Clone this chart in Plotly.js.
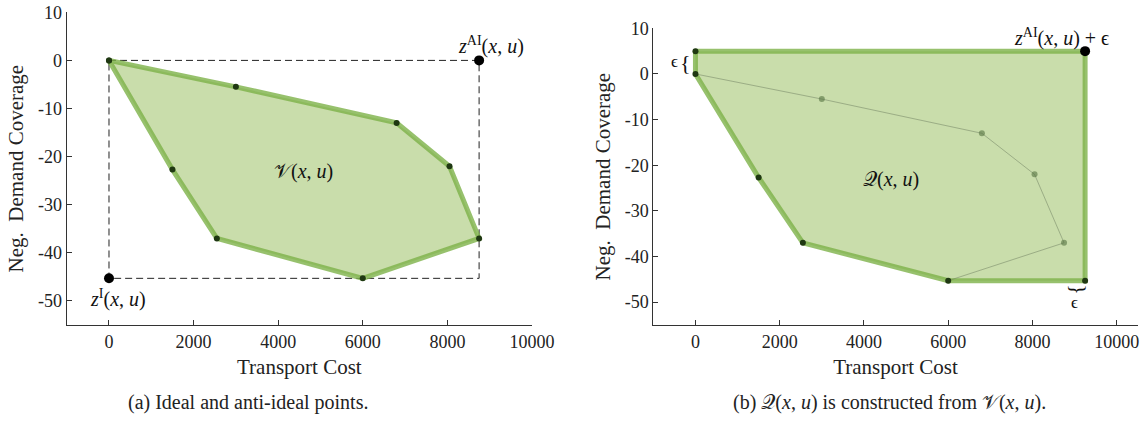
<!DOCTYPE html>
<html><head><meta charset="utf-8">
<script src="https://cdn.plot.ly/plotly-3.0.1.min.js"></script>
<style>html,body{margin:0;padding:0;background:#fff}#chart{width:1146px;height:425px}</style>
</head><body><div id="chart"></div>
<script>
// ---- Panel (a): outcome set V(x,u) ----
const vX = [0, 3000, 6800, 8050, 8750, 6000, 2550, 1500, 0];
const vY = [0, -5.5, -13, -22, -37, -45.3, -37, -22.7, 0];
const idealX = [0];
const idealY = [-45.3];
const antiX = [8750];
const antiY = [0];
const boxX = [0, 8750, 8750, 0, 0];
const boxY = [0, 0, -45.3, -45.3, 0];
// ---- Panel (b): constructed set Q(x,u) ----
const qX = [0, 9250, 9250, 6000, 2550, 1500, 0, 0];
const qY = [5, 5, -45.3, -45.3, -37, -22.7, 0, 5];
const frontX = [0, 3000, 6800, 8050, 8750, 6000];
const frontY = [0, -5.5, -13, -22, -37, -45.3];
const innerX = [3000, 6800, 8050, 8750];
const innerY = [-5.5, -13, -22, -37];
const qDotX = [0, 0, 1500, 2550, 6000, 9250];
const qDotY = [5, 0, -22.7, -37, -45.3, -45.3];
const antiEpsX = [9250];
const antiEpsY = [5];
// ---- ticks ----
const xTicks = [0, 2000, 4000, 6000, 8000, 10000];
const xTickText = ['0', '2000', '4000', '6000', '8000', '10000'];
const yTicks = [10, 0, -10, -20, -30, -40, -50];
const yTickText = ['10', '0', '-10', '-20', '-30', '-40', '-50'];

const FONT = 'Liberation Serif, Times New Roman, serif';
const FILL = 'rgb(201,221,171)';
const EDGE = 'rgba(125,178,72,0.8)';
const DOT = '#1f3812';

const traces = [
  {x: vX, y: vY, xaxis: 'x', yaxis: 'y', mode: 'lines', fill: 'toself', fillcolor: FILL,
   line: {width: 0, color: FILL}, hoverinfo: 'skip'},
  {x: boxX, y: boxY, xaxis: 'x', yaxis: 'y', mode: 'lines',
   line: {color: '#222', width: 1, dash: '7px,4px'}, hoverinfo: 'skip'},
  {x: vX, y: vY, xaxis: 'x', yaxis: 'y', mode: 'lines',
   line: {color: EDGE, width: 5}, hoverinfo: 'skip'},
  {x: vX, y: vY, xaxis: 'x', yaxis: 'y', mode: 'markers', cliponaxis: false,
   marker: {color: DOT, size: 6}},
  {x: idealX.concat(antiX), y: idealY.concat(antiY), xaxis: 'x', yaxis: 'y', mode: 'markers', cliponaxis: false,
   marker: {color: '#000', size: 10}},

  {x: qX, y: qY, xaxis: 'x2', yaxis: 'y2', mode: 'lines', fill: 'toself', fillcolor: FILL,
   line: {width: 0, color: FILL}, hoverinfo: 'skip'},
  {x: qX, y: qY, xaxis: 'x2', yaxis: 'y2', mode: 'lines',
   line: {color: EDGE, width: 5}, hoverinfo: 'skip'},
  {x: frontX, y: frontY, xaxis: 'x2', yaxis: 'y2', mode: 'lines',
   line: {color: 'rgba(110,125,95,0.5)', width: 1}, hoverinfo: 'skip'},
  {x: innerX, y: innerY, xaxis: 'x2', yaxis: 'y2', mode: 'markers',
   marker: {color: 'rgba(85,115,65,0.6)', size: 6}},
  {x: qDotX, y: qDotY, xaxis: 'x2', yaxis: 'y2', mode: 'markers', cliponaxis: false,
   marker: {color: DOT, size: 6}},
  {x: antiEpsX, y: antiEpsY, xaxis: 'x2', yaxis: 'y2', mode: 'markers', cliponaxis: false,
   marker: {color: '#000', size: 10}}
];

function xa(domain, range, anchor) {
  return {domain: domain, range: range, anchor: anchor, showgrid: false, zeroline: false,
    showline: true, linecolor: '#333', linewidth: 1, ticks: 'inside', ticklen: 5, tickcolor: '#333',
    tickmode: 'array', tickvals: xTicks, ticktext: xTickText,
    tickfont: {family: FONT, size: 18, color: '#222'},
    title: {text: 'Transport Cost', font: {family: FONT, size: 21, color: '#222'}, standoff: 8}};
}
function ya(domain, anchor) {
  return {domain: domain, range: [-55, 10], anchor: anchor, showgrid: false, zeroline: false,
    showline: true, linecolor: '#333', linewidth: 1, ticks: 'inside', ticklen: 5, tickcolor: '#333',
    tickmode: 'array', tickvals: yTicks, ticktext: yTickText,
    tickfont: {family: FONT, size: 18, color: '#222'},
    title: {text: 'Neg.  Demand Coverage', font: {family: FONT, size: 21, color: '#222'}, standoff: 8}};
}

const mathF = {family: FONT, size: 20, color: '#111'};
const annotations = [
  {xref: 'x', yref: 'y', x: 4600, y: -23, xanchor: 'center', yanchor: 'middle', text: '𝒱(<i>x</i>, <i>u</i>)', showarrow: false, font: mathF},
  {xref: 'x', yref: 'y', x: 9040, y: 3.0, xanchor: 'center', yanchor: 'middle', text: '<i>z</i><sup>AI</sup>(<i>x</i>, <i>u</i>)', showarrow: false, font: mathF},
  {xref: 'x', yref: 'y', x: 220, y: -49.4, xanchor: 'center', yanchor: 'middle', text: '<i>z</i><sup>I</sup>(<i>x</i>, <i>u</i>)', showarrow: false, font: mathF},

  {xref: 'x2', yref: 'y2', x: 4650, y: -23.2, xanchor: 'center', yanchor: 'middle', text: '𝒬(<i>x</i>, <i>u</i>)', showarrow: false, font: mathF},
  {xref: 'x2', yref: 'y2', x: 8680, y: 8.0, xanchor: 'center', yanchor: 'middle', text: '<i>z</i><sup>AI</sup>(<i>x</i>, <i>u</i>) + ϵ', showarrow: false, font: mathF},
  {xref: 'x2', yref: 'y2', x: 0, y: 2.5, xanchor: 'right', yanchor: 'middle', xshift: -2, text: '{', showarrow: false,
   font: {family: FONT, size: 22, color: '#111'}},
  {xref: 'x2', yref: 'y2', x: 0, y: 2.7, xanchor: 'right', yanchor: 'middle', xshift: -15, text: 'ϵ', showarrow: false,
   font: {family: FONT, size: 17, color: '#111'}},
  {xref: 'x2', yref: 'y2', x: 9000, y: -45.3, xanchor: 'center', yanchor: 'top', yshift: -1, text: '{', textangle: -90, showarrow: false,
   font: {family: FONT, size: 22, color: '#111'}},
  {xref: 'x2', yref: 'y2', x: 9000, y: -45.3, xanchor: 'center', yanchor: 'top', yshift: -10, text: 'ϵ', showarrow: false,
   font: {family: FONT, size: 17, color: '#111'}},

  {xref: 'paper', yref: 'paper', x: 0.2165, y: 0.054, xanchor: 'center', yanchor: 'middle',
   text: '(a) Ideal and anti-ideal points.', showarrow: false,
   font: {family: FONT, size: 20, color: '#222'}},
  {xref: 'paper', yref: 'paper', x: 0.7766, y: 0.054, xanchor: 'center', yanchor: 'middle',
   text: '(b) 𝒬(<i>x</i>, <i>u</i>) is constructed from 𝒱(<i>x</i>, <i>u</i>).', showarrow: false,
   font: {family: FONT, size: 20, color: '#222'}}
];

const layout = {
  width: 1146, height: 425, margin: {l: 0, r: 0, t: 0, b: 0},
  paper_bgcolor: '#fff', plot_bgcolor: '#fff', showlegend: false,
  xaxis: xa([0.0582, 0.4642], [-1000, 10000], 'y'),
  yaxis: ya([0.2353, 0.9711], 'x'),
  xaxis2: xa([0.5701, 0.9928], [-1000, 10500], 'y2'),
  yaxis2: ya([0.2353, 0.9334], 'x2'),
  annotations: annotations
};

Plotly.newPlot('chart', traces, layout, {displayModeBar: false, staticPlot: true});
</script></body></html>
